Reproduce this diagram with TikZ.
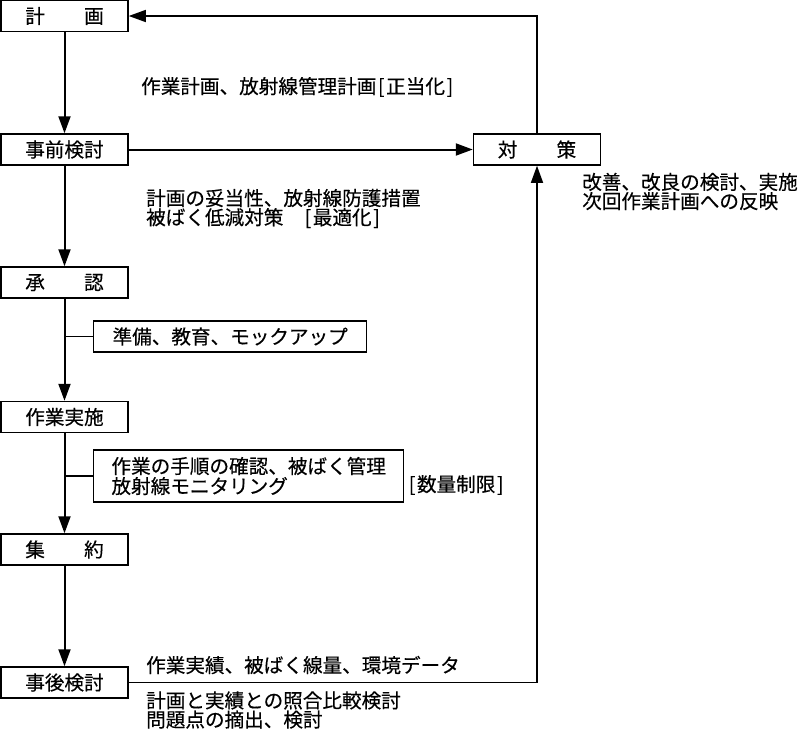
\documentclass[tikz,border=0pt]{standalone}
\usepackage{fontspec}
\setmainfont{Noto Sans CJK JP}[FakeBold=0.35]
\usetikzlibrary{arrows.meta}
\newcommand{\lbr}{\makebox[0.5em][c]{[}}
\newcommand{\rbr}{\makebox[0.5em][c]{]}}
\begin{document}
\begin{tikzpicture}[x=1pt,y=-1pt,
  every node/.style={font=\fontsize{19.6}{17}\selectfont},
  mainbox/.style={draw, line width=1.5pt, minimum width=127pt, minimum height=31pt, inner sep=0pt, anchor=center},
  subbox/.style={draw, line width=1.4pt, inner sep=0pt, align=left, anchor=west},
  flow/.style={line width=2pt, -{Triangle[length=17pt,width=12pt]}},
  loop/.style={line width=1.4pt, -{Triangle[length=17pt,width=12pt]}},
  thinline/.style={line width=1.4pt},
  note/.style={anchor=west, align=left, inner sep=0pt}
]
\useasboundingbox (0,0) rectangle (800,729);

\node[mainbox] (keikaku) at (64.5,16) {計　　画};
\node[mainbox] (jizen) at (64.5,149.5) {事前検討};
\node[mainbox] (shonin) at (64.5,282.5) {承　　認};
\node[mainbox] (jisshi) at (64.5,417) {作業実施};
\node[mainbox] (shuyaku) at (64.5,549.5) {集　　約};
\node[mainbox] (jigo) at (64.5,682.5) {事後検討};
\node[mainbox] (taisaku) at (537,149.5) {対　　策};

\node[subbox, minimum width=273pt, minimum height=31pt] (junbi) at (93,336.5) {準備、教育、モックアップ};
\node[subbox, minimum width=310pt, minimum height=52pt, font=\fontsize{19.6}{20}\selectfont] (kakunin) at (93,476) {作業の手順の確認、被ばく管理\\放射線モニタリング};

\draw[flow] (keikaku) -- (jizen);
\draw[flow] (jizen) -- (shonin);
\draw[flow] (shonin) -- (jisshi);
\draw[flow] (jisshi) -- (shuyaku);
\draw[flow] (shuyaku) -- (jigo);
\draw[flow] (jizen) -- (taisaku);
\draw[thinline] (junbi.west) -- (junbi.west -| shonin.south);
\draw[thinline] (kakunin.west) -- (kakunin.west -| jisshi.south);
\draw[loop] (taisaku.north) |- (keikaku.east);
\draw[loop] (jigo.east) -| (taisaku.south);

\node[note] (t1) at (141,87) {作業計画、放射線管理計画\lbr 正当化\rbr};
\node[note] (t2) at (146,208.5) {計画の妥当性、放射線防護措置\\被ばく低減対策　\lbr 最適化\rbr};
\node[note] (t3) at (582,191.5) {改善、改良の検討、実施\\次回作業計画への反映};
\node[note] (t4) at (407,485) {\lbr 数量制限\rbr};
\node[note] (t5) at (146,665) {作業実績、被ばく線量、環境データ};
\node[note] (t6) at (146,710) {計画と実績との照合比較検討\\問題点の摘出、検討};
\end{tikzpicture}
\end{document}
